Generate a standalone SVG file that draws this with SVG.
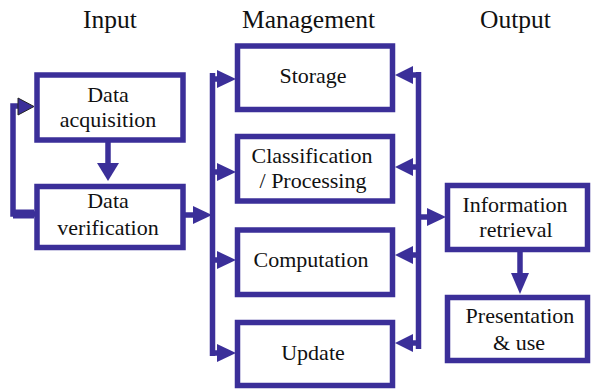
<svg xmlns="http://www.w3.org/2000/svg" width="591" height="389" viewBox="0 0 591 389" font-family="Liberation Serif">
<style>
.box{fill:#fff;stroke:#3b2f99;stroke-width:5.5}
.ln{fill:none;stroke:#3b2f99;stroke-width:5.5}
.ah{fill:#3b2f99}
.lbl{font-family:'Liberation Serif',serif;font-size:22px;fill:#111;text-anchor:middle}
.hd{font-family:'Liberation Serif',serif;font-size:25.5px;fill:#111}
</style>
<rect width="591" height="389" fill="#fff"/>
<g id="titles">
<text class="hd" x="83" y="28">Input</text>
<text class="hd" x="242" y="28">Management</text>
<text class="hd" x="480" y="28">Output</text>
</g>
<g id="connectors">
<path class="ln" d="M108,140 V166"/>
<polygon class="ah" points="97,163 119,163 108,181"/>
<path class="ln" d="M37,214 H13 V106 H20"/>
<path d="M34,214 H13" stroke="#3b2f99" stroke-width="9" fill="none"/>
<polygon points="18,98 34,106.5 18,115" fill="#3b2f99" stroke="#222" stroke-width="1"/>
<path class="ln" d="M183,215 H196"/>
<polygon class="ah" points="193,206 212,215 193,224"/>
<path class="ln" d="M212.5,73 V356"/>
<path class="ln" d="M210,79 H220 M210,172 H220 M210,260 H220 M210,353 H220"/>
<polygon class="ah" points="217,70 236,79 217,88"/>
<polygon class="ah" points="217,163 236,172 217,181"/>
<polygon class="ah" points="217,251 236,260 217,269"/>
<polygon class="ah" points="217,344 236,353 217,362"/>
<path class="ln" d="M418.5,72 V349"/>
<path class="ln" d="M421,75 H410 M421,167 H410 M421,255 H410 M421,343 H410"/>
<polygon class="ah" points="413,66 395,75 413,84"/>
<polygon class="ah" points="413,158 395,167 413,176"/>
<polygon class="ah" points="413,246 395,255 413,264"/>
<polygon class="ah" points="413,334 395,343 413,352"/>
<path class="ln" d="M418,217 H430"/>
<polygon class="ah" points="427,208 446,217 427,226"/>
<path class="ln" d="M520,250 V276"/>
<polygon class="ah" points="511,273 529,273 520,294"/>
</g>
<g id="data-acquisition">
<rect class="box" x="37" y="75" width="146" height="65"/>
<text class="lbl" x="108" y="102">Data</text>
<text class="lbl" x="108" y="127">acquisition</text>
</g>
<g id="data-verification">
<rect class="box" x="37" y="186.5" width="146" height="61"/>
<text class="lbl" x="108" y="208">Data</text>
<text class="lbl" x="108" y="235">verification</text>
</g>
<g id="storage">
<rect class="box" x="237.5" y="46" width="155" height="63.5"/>
<text class="lbl" x="313" y="83">Storage</text>
</g>
<g id="classification">
<rect class="box" x="237.5" y="136.5" width="155" height="64.5"/>
<text class="lbl" x="312" y="163">Classification</text>
<text class="lbl" x="313" y="188">/ Processing</text>
</g>
<g id="computation">
<rect class="box" x="237.5" y="230" width="155" height="64.5"/>
<text class="lbl" x="311" y="267">Computation</text>
</g>
<g id="update">
<rect class="box" x="237.5" y="322.5" width="155" height="63"/>
<text class="lbl" x="313" y="360">Update</text>
</g>
<g id="information-retrieval">
<rect class="box" x="447.5" y="185.5" width="140" height="64"/>
<text class="lbl" x="515" y="212">Information</text>
<text class="lbl" x="516" y="237">retrieval</text>
</g>
<g id="presentation">
<rect class="box" x="447.5" y="297.5" width="140" height="63"/>
<text class="lbl" x="520" y="323">Presentation</text>
<text class="lbl" x="519" y="350">&amp; use</text>
</g>
</svg>
